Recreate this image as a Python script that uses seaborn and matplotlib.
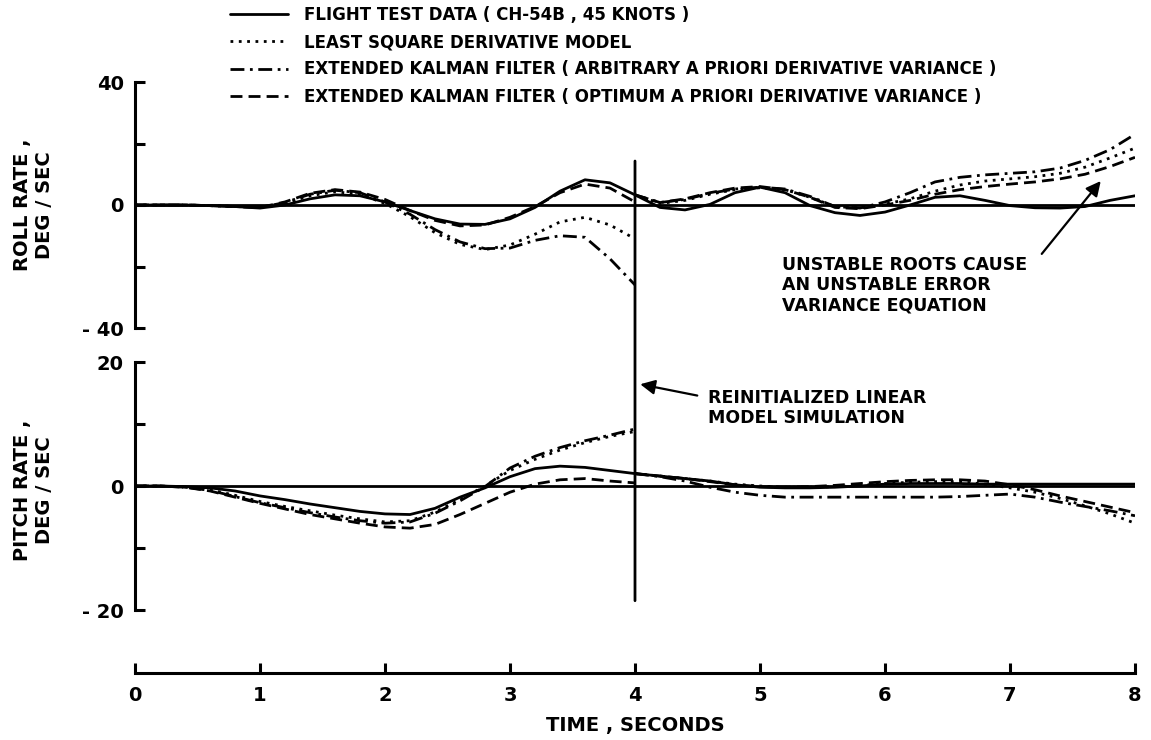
import seaborn as sns
import matplotlib.pyplot as plt
import pandas as pd
from matplotlib.lines import Line2D
from matplotlib.patches import ConnectionPatch

# ---- data ----
time_a = [0.0, 0.2, 0.4, 0.6, 0.8, 1.0, 1.2, 1.4, 1.6, 1.8, 2.0,
          2.2, 2.4, 2.6, 2.8, 3.0, 3.2, 3.4, 3.6, 3.8, 4.0]
time_b = [4.0, 4.2, 4.4, 4.6, 4.8, 5.0, 5.2, 5.4, 5.6, 5.8, 6.0,
          6.2, 6.4, 6.6, 6.8, 7.0, 7.2, 7.4, 7.6, 7.8, 8.0]
time_full = time_a + time_b[1:]

series_names = [
    "FLIGHT TEST DATA ( CH-54B , 45 KNOTS )",
    "LEAST SQUARE DERIVATIVE MODEL",
    "EXTENDED KALMAN FILTER ( ARBITRARY A PRIORI DERIVATIVE VARIANCE )",
    "EXTENDED KALMAN FILTER ( OPTIMUM A PRIORI DERIVATIVE VARIANCE )",
]

# roll rate, deg/sec
roll_flight = [0, 0, 0, -0.2, -0.5, -1.0, 0.0, 2.0, 3.3, 3.0, 1.0,
               -1.8, -4.5, -6.2, -6.3, -4.5, -0.8, 4.5, 8.2, 7.2, 3.3,
               -0.8, -1.6, 0.2, 4.0, 5.8, 4.0, -0.2, -2.5, -3.4, -2.3,
               0.0, 2.5, 3.0, 1.5, -0.2, -0.9, -1.0, -0.5, 1.5, 3.0]
roll_lsq_a = [0, 0, 0, -0.2, -0.5, -0.8, 0.5, 3.0, 4.3, 3.5, 0.5,
              -3.8, -9.0, -12.8, -14.5, -13.0, -9.5, -5.5, -4.0, -6.5, -11.0]
roll_lsq_b = [3.3, 0.5, 1.5, 3.5, 5.0, 5.6, 5.0, 2.5, -0.5, -1.0, 0.3,
              2.0, 4.5, 6.5, 7.8, 8.5, 9.2, 10.3, 12.3, 15.3, 18.5]
roll_arb_a = [0, 0, 0, -0.2, -0.5, -0.8, 0.8, 3.5, 4.8, 4.0, 1.0,
              -3.0, -8.0, -12.0, -14.2, -14.0, -11.5, -10.0, -10.5, -17.5, -26.0]
roll_arb_b = [3.3, 0.8, 1.8, 3.8, 5.2, 5.8, 5.2, 2.8, -0.5, -1.0, 1.0,
              4.0, 7.5, 9.0, 9.8, 10.3, 10.8, 12.0, 14.5, 18.0, 23.0]
roll_opt_a = [0, 0, 0, -0.2, -0.5, -0.8, 1.0, 3.8, 5.0, 4.2, 1.8,
              -1.8, -5.0, -6.8, -6.5, -4.0, -0.5, 4.0, 6.8, 5.5, 1.0]
roll_opt_b = [3.3, 0.8, 2.0, 4.0, 5.5, 6.0, 5.0, 2.5, -0.8, -1.2, 0.0,
              1.5, 3.5, 5.0, 6.0, 6.8, 7.5, 8.5, 10.0, 12.5, 15.5]

# pitch rate, deg/sec
pitch_flight = [0, 0, -0.1, -0.3, -0.8, -1.6, -2.2, -2.9, -3.5, -4.1, -4.5,
                -4.6, -3.6, -1.8, -0.3, 1.5, 2.8, 3.2, 3.0, 2.5, 2.0,
                1.6, 1.2, 0.8, 0.2, -0.2, -0.3, -0.3, -0.2, 0.0, 0.3,
                0.4, 0.4, 0.4, 0.3, 0.3, 0.3, 0.3, 0.3, 0.3, 0.3]
pitch_lsq_a = [0, 0, -0.2, -0.6, -1.5, -2.5, -3.3, -4.0, -4.7, -5.3, -5.8,
               -5.6, -4.2, -2.2, 0.0, 2.5, 4.3, 5.8, 7.0, 8.0, 8.8]
pitch_lsq_b = [2.0, 1.6, 1.2, 0.8, 0.3, 0.0, -0.2, -0.2, -0.1, 0.1, 0.4,
               0.6, 0.7, 0.7, 0.3, -0.3, -1.0, -2.0, -3.2, -4.5, -6.0]
pitch_arb_a = [0, 0, -0.2, -0.7, -1.7, -2.7, -3.5, -4.3, -5.0, -5.6, -6.0,
               -5.8, -4.4, -2.4, -0.1, 2.9, 4.8, 6.2, 7.3, 8.2, 9.2]
pitch_arb_b = [2.0, 1.5, 0.8, -0.2, -1.0, -1.5, -1.8, -1.8, -1.8, -1.8, -1.8,
               -1.8, -1.8, -1.7, -1.5, -1.3, -1.8, -2.6, -3.3, -4.0, -4.8]
pitch_opt_a = [0, 0, -0.2, -0.8, -1.8, -2.8, -3.7, -4.6, -5.3, -6.0, -6.6,
               -6.8, -6.2, -4.6, -2.8, -1.0, 0.3, 1.0, 1.2, 0.8, 0.5]
pitch_opt_b = [2.0, 1.6, 1.2, 0.7, 0.2, -0.1, -0.2, -0.1, 0.1, 0.4, 0.7,
               0.9, 1.0, 1.0, 0.8, 0.2, -0.6, -1.6, -2.5, -3.4, -4.3]


def long_frame(flight, lsq, arb, opt):
    rows = []
    for t, v in zip(time_full, flight):
        rows.append((t, v, series_names[0], "a"))
    for name, (seg_a, seg_b) in zip(series_names[1:], [lsq, arb, opt]):
        for t, v in zip(time_a, seg_a):
            rows.append((t, v, name, "a"))
        for t, v in zip(time_b, seg_b):
            rows.append((t, v, name, "b"))
    return pd.DataFrame(rows, columns=["time", "value", "series", "segment"])


df_roll = long_frame(roll_flight, (roll_lsq_a, roll_lsq_b),
                     (roll_arb_a, roll_arb_b), (roll_opt_a, roll_opt_b))
df_pitch = long_frame(pitch_flight, (pitch_lsq_a, pitch_lsq_b),
                      (pitch_arb_a, pitch_arb_b), (pitch_opt_a, pitch_opt_b))

dash_map = {
    series_names[0]: "",
    series_names[1]: (1, 2),
    series_names[2]: (5, 2, 1, 2),
    series_names[3]: (4.3, 2.2),
}

# ---- style ----
sns.set_theme(style="white")
plt.rcParams["font.family"] = ["DejaVu Sans"]
plt.rcParams["font.weight"] = "bold"
plt.rcParams["text.color"] = "black"
plt.rcParams["axes.labelcolor"] = "black"
plt.rcParams["xtick.color"] = "black"
plt.rcParams["ytick.color"] = "black"
LW = 2.0

fig = plt.figure(figsize=(11.51, 7.40), dpi=100)
W, H = 1151, 740
ax_roll = fig.add_axes([135 / W, 1 - 328 / H, 1000 / W, 246 / H])
ax_pitch = fig.add_axes([135 / W, 1 - 610 / H, 1000 / W, 248 / H])

for ax, df in [(ax_roll, df_roll), (ax_pitch, df_pitch)]:
    ax.axhline(0, color="black", lw=LW, zorder=1)
    sns.lineplot(data=df, x="time", y="value", style="series", units="segment",
                 estimator=None, dashes=dash_map, color="black", lw=LW,
                 sort=False, legend=False, ax=ax, solid_joinstyle="round")
    ax.set_xlim(0, 8)
    ax.set_xlabel("")
    ax.set_ylabel("")
    for s in ["top", "right"]:
        ax.spines[s].set_visible(False)
    ax.spines["left"].set_linewidth(2.2)
    ax.spines["left"].set_color("black")
    ax.tick_params(axis="y", left=True, direction="in", length=7, width=2.2,
                   labelsize=14, pad=8, colors="black")

# roll panel
ax_roll.set_ylim(-40, 40)
ax_roll.set_yticks([-40, -20, 0, 20, 40], ["- 40", "", "0", "", "40"])
ax_roll.spines["bottom"].set_visible(False)
ax_roll.set_xticks([])

# pitch panel with time axis below
ax_pitch.set_ylim(-20, 20)
ax_pitch.set_yticks([-20, -10, 0, 10, 20], ["- 20", "", "0", "", "20"])
ax_pitch.spines["bottom"].set_position(("outward", 45))
ax_pitch.spines["bottom"].set_linewidth(2.2)
ax_pitch.spines["bottom"].set_color("black")
ax_pitch.set_xticks(range(0, 9), [str(i) for i in range(0, 9)])
ax_pitch.tick_params(axis="x", bottom=True, direction="in", length=7, width=2.2,
                     labelsize=14, pad=10, colors="black")
ax_pitch.set_xlabel("TIME , SECONDS", fontsize=14, fontweight="bold", labelpad=8)

# axis titles
fig.text(34 / W, 1 - 205 / H, "ROLL RATE ,\nDEG / SEC", rotation=90,
         ha="center", va="center", fontsize=14, fontweight="bold")
fig.text(34 / W, 1 - 490 / H, "PITCH RATE ,\nDEG / SEC", rotation=90,
         ha="center", va="center", fontsize=14, fontweight="bold")

# reinitialisation line across both panels
con = ConnectionPatch(xyA=(4, 14.3), coordsA="data", axesA=ax_roll,
                      xyB=(4, -18.5), coordsB="data", axesB=ax_pitch,
                      color="black", lw=LW)
fig.add_artist(con)

# annotations
ax_pitch.annotate("", xy=(4.02, 16.5), xytext=(4.52, 14.5),
                  arrowprops=dict(arrowstyle="-|>", color="black", lw=1.6,
                                  mutation_scale=22))
ax_pitch.text(4.58, 12.6, "REINITIALIZED LINEAR\nMODEL SIMULATION",
              ha="left", va="center", fontsize=12.5, fontweight="bold",
              linespacing=1.15)
ax_roll.annotate("", xy=(7.74, 8.5), xytext=(7.24, -16.6),
                 arrowprops=dict(arrowstyle="-|>", color="black", lw=1.6,
                                 mutation_scale=22))
ax_roll.text(5.18, -26, "UNSTABLE ROOTS CAUSE\nAN UNSTABLE ERROR\nVARIANCE EQUATION",
             ha="left", va="center", fontsize=12.5, fontweight="bold",
             linespacing=1.15)

# legend
handles = [Line2D([], [], color="black", lw=LW)]
handles += [Line2D([], [], color="black", lw=LW, dashes=dash_map[n])
            for n in series_names[1:]]
fig.legend(handles, series_names, loc="upper left",
           bbox_to_anchor=(230 / W, 1 - 6 / H), frameon=False,
           fontsize=12, handlelength=3.45, handletextpad=1.0,
           labelspacing=0.55, borderpad=0, borderaxespad=0)

plt.savefig("out.png", dpi=100)
